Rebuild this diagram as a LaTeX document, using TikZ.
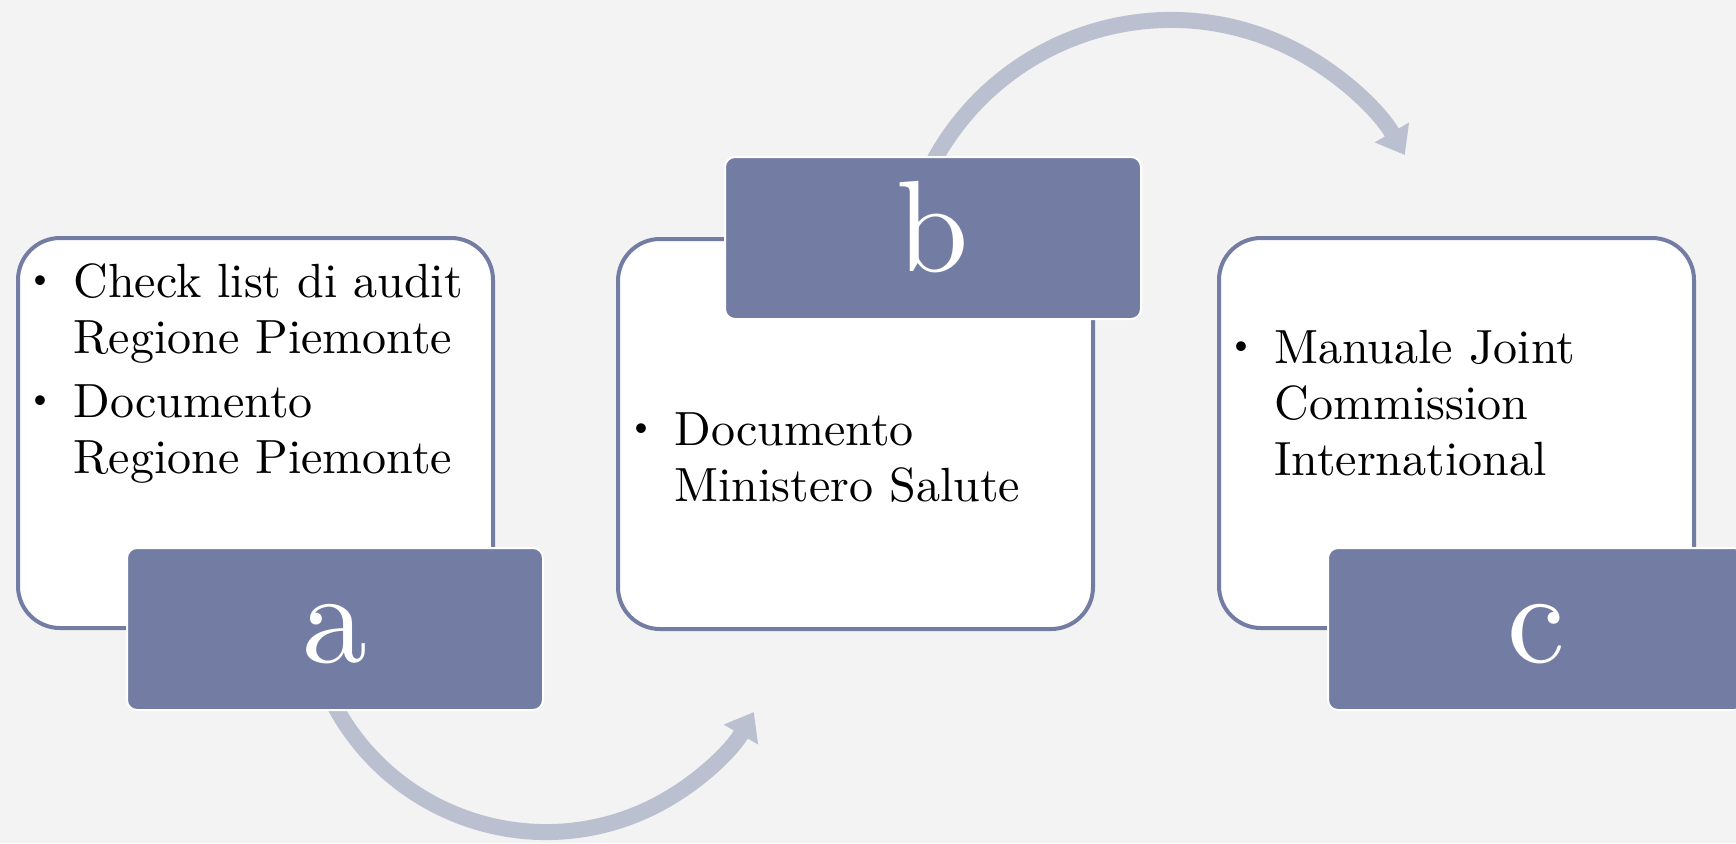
\documentclass[tikz,border=0pt]{standalone}
\usepackage{fontspec}
\setmainfont{lmroman10-regular.otf}
\usetikzlibrary{arrows.meta}
\definecolor{slate}{RGB}{115,125,163}
\definecolor{arcgray}{RGB}{187,192,208}
\definecolor{paper}{RGB}{243,243,243}
\newcommand{\itm}{\llap{\raisebox{4.5pt}{\fontsize{17}{17}\selectfont\textbullet}\hspace{10pt}}}
\begin{document}
\begin{tikzpicture}[x=0.5pt,y=-0.5pt,
  doc/.style={draw=slate,line width=2pt,fill=white,rounded corners=21pt,minimum width=237.5pt,minimum height=195pt},
  tag/.style={draw=white,line width=1pt,fill=slate,rounded corners=5pt,minimum width=208pt,minimum height=81pt,
    text=white,font=\fontsize{65}{65}\selectfont,text height=45pt,text depth=12pt},
  txt/.style={anchor=base west,inner sep=0pt,font=\fontsize{24}{28}\selectfont},
  flow/.style={arcgray,line width=8pt,-{Triangle[width=19pt,length=13pt]}}]
  \fill[paper] (0,0) rectangle (1736,843);
  \useasboundingbox (0,0) rectangle (1736,843);

  % curved arrows, behind the boxes
  \coordinate (ab) at (334.1,704.7);
  \coordinate (bc) at (932.6,163.2);
  \draw[flow] (ab) arc[start angle=152,end angle=30,radius=240];
  \draw[flow] (bc) arc[start angle=208,end angle=330,radius=270];

  \node[doc](boxa) at (255.5,433) {};
  \node[doc](boxb) at (855.5,434) {};
  \node[doc](boxc) at (1456.5,433) {};

  \node[txt](texta) at (73,297) {\begin{tabular}[t]{@{}l@{}}\itm Check list di audit\\ Regione Piemonte\\[4pt] \itm Documento\\ Regione Piemonte\end{tabular}};
  \node[txt](textb) at (674,445) {\begin{tabular}[t]{@{}l@{}}\itm Documento\\ Ministero Salute\end{tabular}};
  \node[txt](textc) at (1274,363) {\begin{tabular}[t]{@{}l@{}}\itm Manuale Joint\\ Commission\\ International\end{tabular}};

  \node[tag](taga) at (335,629) {a};
  \node[tag](tagb) at (933,238) {b};
  \node[tag](tagc) at (1536,629) {c};
\end{tikzpicture}
\end{document}
